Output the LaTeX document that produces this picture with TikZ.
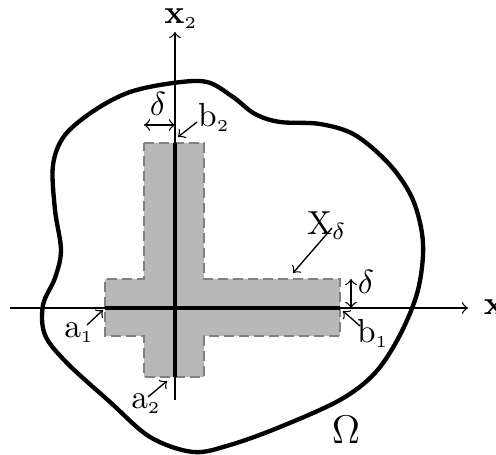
\documentclass[tikz,border=0pt]{standalone}
\usepackage{amsmath,amssymb}
\usepackage{xcolor}

\begin{document}
\begin{tikzpicture}[x=0.3pt,y=-0.3pt]

\useasboundingbox (0,0) rectangle (496,455);

% Dominio Omega
\draw[line width=1.3pt] plot[smooth cycle, tension=0.55] coordinates {
  (173,83) (207,82) (233,97) (255,114) (280,122) (320,124) (355,135)
  (390,165) (413,200) (423,243) (418,290) (400,335) (375,373)
  (340,400) (280,427) (230,445) (193,452) (150,437) (110,402)
  (67,363) (45,335) (43,305) (55,278) (61,250) (55,210) (53,165)
  (65,135) (95,110) (130,92)};
\node[font=\large] (Omega) at (346,430) {$\Omega$};

% Zona X_delta
\fill[black!28] (144,143) -- (204,143) -- (204,279) -- (340,279) -- (340,336)
  -- (204,336) -- (204,377) -- (144,377) -- (144,336) -- (105,336)
  -- (105,279) -- (144,279) -- cycle;
\draw[gray, thick, dash pattern=on 3pt off 1.5pt] (144,143) -- (204,143) -- (204,279)
  -- (340,279) -- (340,336) -- (204,336) -- (204,377) -- (144,377)
  -- (144,336) -- (105,336) -- (105,279) -- (144,279) -- cycle;

% Ejes
\coordinate (O) at (175,308);
\coordinate (X1end) at (468,308);
\coordinate (X1start) at (10,308);
\coordinate (X2end) at (175,32);
\coordinate (X2start) at (175,400);
\draw[thin, ->] (X1start) -- (X1end);
\draw[thin, ->] (X2start) -- (X2end);
\node[anchor=west] (lx1) at (472,310) {$\mathbf{x}_{\scriptscriptstyle 1}$};
\node (lx2) at (181,19) {$\mathbf{x}_{\scriptscriptstyle 2}$};

% Segmentos
\coordinate (a1) at (105,308);
\coordinate (b1) at (340,308);
\coordinate (a2) at (175,377);
\coordinate (b2) at (175,143);
\draw[line width=1.4pt] (a1) -- (b1);
\draw[line width=1.4pt] (a2) -- (b2);

% Etiquetas de extremos
\node (la1) at (79,333) {$\mathrm{a}_{\scriptscriptstyle 1}$};
\node (lb1) at (373,333) {$\mathrm{b}_{\scriptscriptstyle 1}$};
\node (la2) at (146,404) {$\mathrm{a}_{\scriptscriptstyle 2}$};
\node (lb2) at (214,117) {$\mathrm{b}_{\scriptscriptstyle 2}$};

\coordinate (ta1) at (87,325);
\coordinate (ha1) at (103,310);
\coordinate (tb1) at (360,326);
\coordinate (hb1) at (343,311);
\coordinate (ta2) at (148,397);
\coordinate (ha2) at (167,381);
\coordinate (tb2) at (197,122);
\coordinate (hb2) at (178,137);
\draw[->] (ta1) -- (ha1);
\draw[->] (tb1) -- (hb1);
\draw[->] (ta2) -- (ha2);
\draw[->] (tb2) -- (hb2);

% X_delta
\node (lX) at (327,226) {$\mathrm{X}_{\delta}$};
\coordinate (tX) at (332,228);
\coordinate (hX) at (293,273);
\draw[->] (tX) -- (hX);

% Anchos delta
\coordinate (d1l) at (144,125);
\coordinate (d1r) at (175,125);
\draw[<->, thin] (d1l) -- (d1r);
\node (ld1) at (158,104) {$\delta$};
\coordinate (d2t) at (351,279);
\coordinate (d2b) at (351,308);
\draw[<->, thin] (d2t) -- (d2b);
\node (ld2) at (366,282) {$\delta$};

\end{tikzpicture}
\end{document}
